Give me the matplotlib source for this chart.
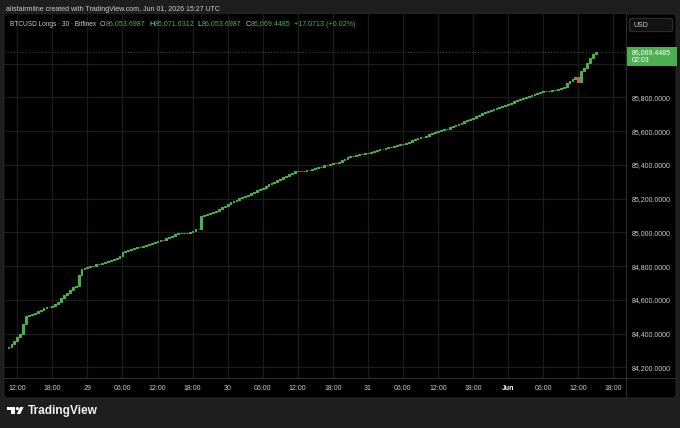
import matplotlib
matplotlib.use('Agg')
import matplotlib.pyplot as plt
from matplotlib.patches import FancyBboxPatch, Polygon, Circle, Rectangle
import pandas as pd

# ---------------- data ----------------
start_time = '2026-05-28 10:30'
first_open = 84316.0
closes = [
    84323.2, 84335.1, 84352.9, 84376.6, 84397.3, 84456.6, 84504.0, 84507.0, 84514.1, 84524.7,
    84533.6, 84542.5, 84549.6, 84555.5, 84559.1, 84565.0, 84575.1, 84584.0, 84610.7, 84625.5,
    84640.3, 84658.1, 84672.9, 84681.8, 84746.9, 84782.5, 84785.5, 84792.6, 84798.5, 84803.2,
    84809.2, 84813.3, 84818.1, 84822.8, 84828.7, 84835.8, 84843.5, 84850.6, 84862.5, 84882.1,
    84889.2, 84896.3, 84902.8, 84907.0, 84911.1, 84914.1, 84917.6, 84923.0, 84927.7, 84934.8,
    84939.6, 84946.7, 84957.3, 84955.5, 84968.0, 84973.9, 84979.9, 84987.0, 84992.9, 84995.2,
    84995.8, 84997.0, 85000.0, 85006.5, 85016.6, 85022.5, 85097.8, 85102.5, 85109.6, 85115.5,
    85120.3, 85127.4, 85136.9, 85147.0, 85155.8, 85166.5, 85176.6, 85183.7, 85191.4, 85200.3,
    85208.0, 85215.1, 85223.4, 85231.1, 85238.8, 85247.7, 85256.6, 85264.9, 85274.4, 85283.3,
    85291.5, 85300.4, 85308.7, 85318.2, 85327.7, 85336.0, 85345.5, 85353.8, 85360.3, 85365.6,
    85363.9, 85364.4, 85366.8, 85371.5, 85376.3, 85378.7, 85384.0, 85389.3, 85398.8, 85397.0,
    85403.6, 85407.7, 85412.4, 85417.8, 85425.5, 85435.6, 85443.3, 85450.4, 85455.1, 85458.1,
    85461.6, 85465.2, 85467.6, 85471.1, 85475.8, 85480.6, 85485.3, 85491.3, 85494.8, 85499.0,
    85503.7, 85507.9, 85512.6, 85517.3, 85522.1, 85526.2, 85531.6, 85537.5, 85544.0, 85551.7,
    85556.5, 85561.8, 85567.1, 85573.6, 85580.2, 85586.1, 85592.0, 85598.5, 85603.3, 85609.2,
    85615.1, 85621.6, 85628.1, 85635.8, 85641.8, 85650.1, 85657.2, 85665.5, 85672.6, 85679.7,
    85686.8, 85695.1, 85708.1, 85714.1, 85718.8, 85724.7, 85730.7, 85736.6, 85742.5, 85749.0,
    85755.6, 85762.1, 85768.6, 85775.7, 85782.8, 85788.7, 85794.7, 85801.2, 85807.7, 85814.2,
    85820.7, 85827.3, 85833.8, 85839.7, 85834.4, 85836.1, 85840.3, 85845.6, 85850.4, 85856.3,
    85864.0, 85881.8, 85899.0, 85910.8, 85917.9, 85892.4, 85958.8, 85974.8, 86000.3, 86030.0,
    86053.6987, 86069.4485,
]
price_ticks = [84200, 84400, 84600, 84800, 85000, 85200, 85400, 85600, 85800, 86000]
hidden_price_labels = [86000]   # covered by the last-price tag in the reference
tick_start = '2026-05-28 12:00'
tick_end = '2026-06-01 18:00'
header_text = 'alistairmilne created with TradingView.com, Jun 01, 2026 15:27 UTC'
legend_title = 'BTCUSD Longs \u00b7 30 \u00b7 Bitfinex'
ohlc_labels = ['O', 'H', 'L', 'C']
ohlc_values = ['86,053.6987', '86,071.6312', '86,053.6987', '86,069.4485']
change_text = '+17.0713 (+0.02%)'
currency = 'USD'
countdown = '02:03'

# ---------------- style ----------------
W, H = 680, 428
plt.rcParams['font.family'] = ['Liberation Sans', 'DejaVu Sans']
FS = 5.0

BG = '#1e1e1e'
PANE = '#000000'
GRID = '#1c1c1c'
SEP = '#2e2e2e'
TXT = '#c9ccd4'
GREEN = '#4caf50'
RED = '#e0504a'

times = pd.date_range(start_time, periods=len(closes), freq='30min')
opens = [first_open] + closes[:-1]
step = pd.Timedelta('30min')

fig = plt.figure(figsize=(W / 100, H / 100), dpi=100, facecolor=BG)
renderer = fig.canvas.get_renderer()


def px_axes(zorder):
    a = fig.add_axes([0, 0, 1, 1], zorder=zorder)
    a.set_xlim(0, W)
    a.set_ylim(H, 0)
    a.axis('off')
    a.patch.set_alpha(0)
    return a


bg = px_axes(0)
bg.add_patch(FancyBboxPatch((4, 14), 672, 384, boxstyle='round,pad=0,rounding_size=3',
                            fc=PANE, ec='#2a2a2a', lw=0.6))

# main axes in pixel box
L, R, T, B = 5, 626, 14, 378
ax = fig.add_axes([L / W, 1 - B / H, (R - L) / W, (B - T) / H], zorder=2)
ax.set_facecolor(PANE)
for s in ax.spines.values():
    s.set_visible(False)

# pixel mapping of the reference: candle i at x = 8.5 + 2.922*i ; price = 86376.6 - 5.926*y
ax.set_xlim(times[0] - step * ((8.5 - L) / 2.922), times[0] + step * ((R - 8.5) / 2.922))
ax.set_ylim(86376.6 - 5.926 * B, 86376.6 - 5.926 * T)

xt = pd.date_range(tick_start, tick_end, freq='6h')
labels = []
for t in xt:
    if t.hour == 0 and t.day == 1:
        labels.append(t.strftime('%b'))
    elif t.hour == 0:
        labels.append(str(t.day))
    else:
        labels.append(t.strftime('%H:%M'))
ax.set_xticks(xt)
ax.set_xticklabels(labels)
ax.set_yticks(price_ticks)
ax.set_yticklabels(['' if p in hidden_price_labels else f'{p:,.4f}' for p in price_ticks])
ax.yaxis.tick_right()
ax.tick_params(axis='both', length=0, colors=TXT, labelsize=FS)
ax.tick_params(axis='x', pad=5)
ax.tick_params(axis='y', pad=4)
for lab in ax.get_xticklabels():
    if lab.get_text() == 'Jun':
        lab.set_fontweight('bold')
        lab.set_color('#ffffff')
ax.grid(True, color=GRID, lw=0.9)
ax.set_axisbelow(True)

heights = [c - o for o, c in zip(opens, closes)]
cols = [GREEN if c >= o else RED for o, c in zip(opens, closes)]
ax.bar(times, heights, bottom=opens, width=step * 0.62, color=cols, edgecolor=cols,
       linewidth=0.8, zorder=3)
ax.axhline(closes[-1], color=GREEN, lw=0.7, ls=(0, (1, 2)), alpha=0.55, zorder=2)

fg = px_axes(5)
# separators
fg.plot([626, 626], [14, 398], color=SEP, lw=0.8)
fg.plot([4, 676], [378.3, 378.3], color=SEP, lw=0.8)

# header
fg.text(6, 9.3, header_text, color=TXT, fontsize=FS, va='center', ha='left')

# legend row: title, then O/H/L/C blocks chained one after another
fg.text(10, 24, legend_title, color=TXT, fontsize=4.7, va='center', ha='left')
LFS = 5.1
x = 100.0
for l, v in zip(ohlc_labels, ohlc_values):
    t1 = fg.text(x, 24, l, color=TXT, fontsize=LFS, va='center', ha='left')
    x = t1.get_window_extent(renderer).x1 + 0.3
    t2 = fg.text(x, 24, v, color=GREEN, fontsize=LFS, va='center', ha='left')
    x = t2.get_window_extent(renderer).x1 + 3.5
fg.text(x, 24, change_text, color=GREEN, fontsize=LFS, va='center', ha='left')

# USD box
fg.add_patch(FancyBboxPatch((629.3, 18.3), 43.4, 13.4, boxstyle='round,pad=0,rounding_size=2.5',
                            fc='#121212', ec='#3a3a3a', lw=0.6))
fg.text(634, 25, currency, color=TXT, fontsize=FS, va='center', ha='left')

# last price tag
fg.add_patch(Rectangle((627, 47), 49.5, 18.5, fc=GREEN, ec='none'))
fg.text(631.5, 52.3, f'{closes[-1]:,.4f}', color='white', fontsize=FS, va='center', ha='left')
fg.text(631.5, 60.3, countdown, color='white', fontsize=FS, va='center', ha='left')

# TradingView logo
fg.add_patch(Polygon([(7, 407), (15, 407), (15, 414), (11.3, 414), (11.3, 410), (7, 410)],
                     closed=True, fc='white', ec='none'))
fg.add_patch(Circle((17.4, 408.6), 1.6, fc='white', ec='none'))
fg.add_patch(Polygon([(20.2, 407), (23.6, 407), (20.2, 414), (16.8, 414)], closed=True,
                     fc='white', ec='none'))
fg.text(28, 410.7, 'TradingView', color='#f0f0f0', fontsize=8.6, fontweight='bold',
        va='center', ha='left')

fig.savefig('out.png', dpi=100, facecolor=BG)
